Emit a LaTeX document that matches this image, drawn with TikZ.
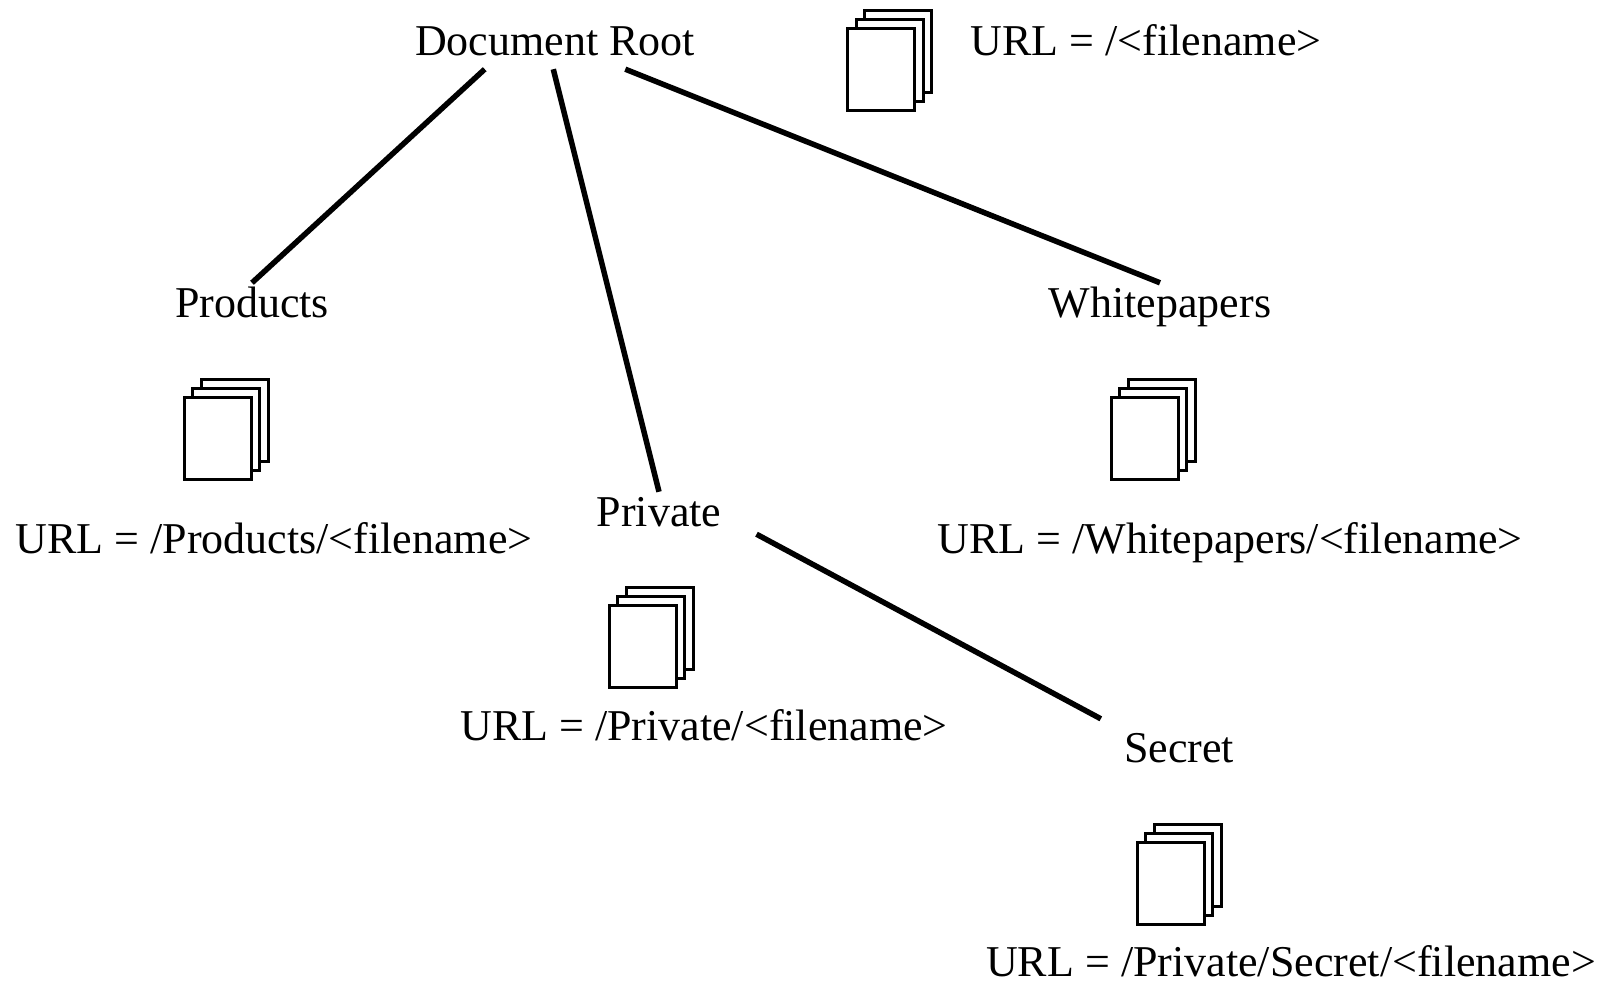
\documentclass[tikz,border=0pt]{standalone}
\usepackage{fontspec}
\setmainfont{Liberation Serif}
\usetikzlibrary{calc}

\tikzset{
	folder/.style={minimum height=48pt, inner sep=0pt, text height=30pt, text depth=10pt, font=\fontsize{44}{50}\selectfont},
	link/.style={line width=5.5pt},
	sheet/.style={draw, fill=white, line width=3pt},
	pages/.pic={
		\path [sheet] (17,-18) rectangle (84,64);
		\path [sheet] (8.5,-9) rectangle (75.5,73);
		\path [sheet] (0,0) rectangle (67,82);
	},
}

\begin{document}
\begin{tikzpicture}[
		x=1pt,
		y=-1pt,
	]

		\useasboundingbox (0, 0) rectangle (1608, 983);

		% folders
		\node [folder] (root) at (555, 45) {Document Root};
		\node [folder] (products) at (252, 307) {Products};
		\node [folder] (whitepapers) at (1160, 307) {Whitepapers};
		\node [folder] (private) at (659, 516) {Private};
		\node [folder] (secret) at (1179, 752) {Secret};

		% urls
		\node [folder] (rooturl) at (1146, 45) {URL = /<filename>};
		\node [folder] (producturl) at (274, 543) {URL = /Products/<filename>};
		\node [folder] (whitepaperurl) at (1230, 543) {URL = /Whitepapers/<filename>};
		\node [folder] (privateurl) at (704, 730) {URL = /Private/<filename>};
		\node [folder] (secreturl) at (1291, 966) {URL = /Private/Secret/<filename>};

		% documents
		\pic at (847.5, 28.5) {pages};
		\pic at (184, 397) {pages};
		\pic at (1111, 397) {pages};
		\pic at (609, 605) {pages};
		\pic at (1137, 842) {pages};

		% links
		\path [link] (root.-161.3) edge (products.north);
		\path [link] (root.-94.8) edge (private.north);
		\path [link] (root.-19.4) edge (whitepapers.north);
		\path [link] ([shift={(35,-6)}]private.south east) edge ([shift={(-23,-9)}]secret.north west);
	\end{tikzpicture}
\end{document}
